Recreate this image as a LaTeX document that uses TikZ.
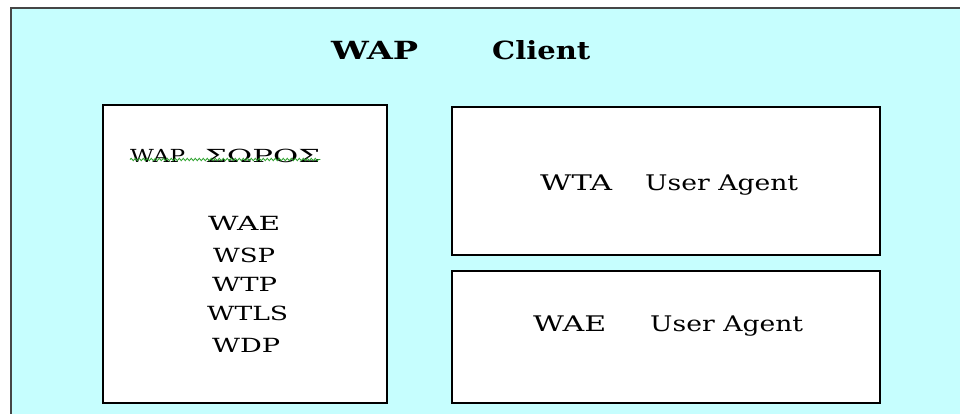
\documentclass[tikz,border=0pt]{standalone}
\usepackage{fontspec}
\usepackage{graphicx}
\setmainfont{DejaVu Serif}
\usetikzlibrary{decorations.pathmorphing}
\definecolor{clientbg}{RGB}{198,254,254}
\definecolor{frameline}{RGB}{70,70,70}
\definecolor{spellgreen}{RGB}{40,160,40}
% stretch a word to a set width, keeping its height
\newcommand\fitw[2]{\resizebox{#1}{\height}{#2}}
\tikzset{
  client/.style={draw=frameline, line width=1.4pt, fill=clientbg},
  layerbox/.style={draw=black, line width=1.6pt, fill=white},
  titletext/.style={font=\bfseries\fontsize{25}{30}\selectfont, anchor=base west, inner sep=0pt},
  headtext/.style={font=\fontsize{18}{22}\selectfont, anchor=base west, inner sep=0pt},
  stacktext/.style={font=\fontsize{19.5}{23}\selectfont, anchor=base west, inner sep=0pt},
  agenttext/.style={font=\fontsize{21.5}{26}\selectfont, anchor=base west, inner sep=0pt},
}
\begin{document}
\begin{tikzpicture}[x=1pt, y=-1pt]
  \useasboundingbox (0,0) rectangle (960,413);
  \begin{scope}
    \clip (0,0) rectangle (960,413);
    % client frame, running past the right and bottom edges
    \draw[client] (11,8) rectangle (990,440);
  \end{scope}

  % title
  \node[titletext] (wap) at (331,59) {\fitw{87pt}{WAP}};
  \node[titletext] (client) at (492,59) {\fitw{98pt}{Client}};

  % protocol stack box
  \draw[layerbox] (103,105) rectangle (387,403);
  \node[headtext] (stack) at (130,162) {\fitw{55pt}{WAP}\hspace{20pt}\fitw{115pt}{ΣΩΡΟΣ}};
  \draw[spellgreen, line width=0.8pt, decorate,
        decoration={snake, amplitude=1.2pt, segment length=4pt}]
    ([yshift=2.5pt]stack.base west) -- ([yshift=2.5pt]stack.base east);
  \node[stacktext] (wae) at (208,230) {\fitw{72pt}{WAE}};
  \node[stacktext] (wsp) at (213,262) {\fitw{62pt}{WSP}};
  \node[stacktext] (wtp) at (212,291) {\fitw{65pt}{WTP}};
  \node[stacktext] (wtls) at (207,320) {\fitw{81pt}{WTLS}};
  \node[stacktext] (wdp) at (212,352) {\fitw{68pt}{WDP}};

  % user agent boxes
  \draw[layerbox] (452,107) rectangle (880,255);
  \node[agenttext] (wta) at (540,190) {\fitw{72pt}{WTA}\hspace{33pt}\fitw{153pt}{User Agent}};
  \draw[layerbox] (452,271) rectangle (880,403);
  \node[agenttext] (waeua) at (533,331) {\fitw{73pt}{WAE}\hspace{44pt}\fitw{153pt}{User Agent}};
\end{tikzpicture}
\end{document}
